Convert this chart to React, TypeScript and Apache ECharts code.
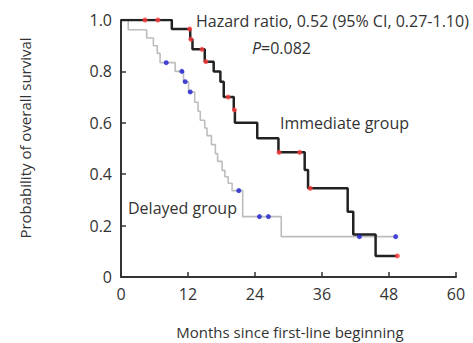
import React, { useEffect, useRef } from "react";
import * as echarts from "echarts";

// Immediate group (black): event times (months) and survival after each event
const immediateTimes = [0, 9.1, 12.4, 12.8, 15.0, 16.6, 17.8, 18.4, 20.2, 20.4, 24.4, 28.2, 32.9, 33.5, 40.6, 41.6, 45.6, 49.5];
const immediateSurv = [1.0, 0.965, 0.925, 0.886, 0.838, 0.8, 0.76, 0.7, 0.65, 0.6, 0.54, 0.485, 0.416, 0.345, 0.254, 0.165, 0.082, 0.082];
const immediateCensorTimes = [4.3, 6.6, 12.3, 12.5, 14.5, 15.2, 19.2, 20.3, 28.3, 32.0, 33.9, 49.5];
const immediateCensorSurv = [1.0, 1.0, 0.965, 0.925, 0.886, 0.838, 0.7, 0.65, 0.485, 0.485, 0.345, 0.082];

// Delayed group (grey)
const delayedTimes = [0, 1.3, 4.6, 5.8, 6.5, 7.0, 9.7, 11.2, 12.1, 13.2, 13.8, 14.2, 15.0, 15.4, 16.2, 16.9, 17.3, 18.1, 18.6, 19.2, 19.9, 21.8, 28.7, 49.2];
const delayedSurv = [1.0, 0.962, 0.93, 0.9, 0.87, 0.834, 0.8, 0.76, 0.72, 0.68, 0.645, 0.61, 0.58, 0.55, 0.515, 0.48, 0.45, 0.415, 0.39, 0.365, 0.336, 0.235, 0.157, 0.157];
const delayedCensorTimes = [8.1, 10.9, 11.5, 12.4, 21.1, 24.8, 26.4, 42.7, 49.2];
const delayedCensorSurv = [0.834, 0.8, 0.76, 0.72, 0.336, 0.235, 0.235, 0.157, 0.157];

const xTicks = [0, 12, 24, 36, 48, 60];
const yTicks = [0, 0.2, 0.4, 0.6, 0.8, 1.0];

const FONT = "Open Sans";
const TXT = "#333";

const zip = (a: number[], b: number[]) => a.map((v, i) => [v, b[i]]);

export default function App() {
  const ref = useRef<HTMLDivElement>(null);
  useEffect(() => {
    document.body.style.margin = "0";
    const chart = echarts.init(ref.current!, null, { renderer: "svg" });
    chart.setOption({
      animation: false,
      backgroundColor: "#fff",
      grid: { left: 121, right: 17, top: 20, bottom: 66 },
      xAxis: {
        type: "value",
        min: xTicks[0],
        max: xTicks[xTicks.length - 1],
        interval: 12,
        axisLine: { lineStyle: { color: "#333", width: 2 } },
        axisTick: { inside: true, length: 5, lineStyle: { color: "#333", width: 1.5 } },
        axisLabel: { color: TXT, fontFamily: FONT, fontSize: 16, margin: 9 },
        splitLine: { show: false },
      },
      yAxis: {
        type: "value",
        min: yTicks[0],
        max: yTicks[yTicks.length - 1],
        interval: 0.2,
        axisLine: { show: true, lineStyle: { color: "#333", width: 2 } },
        axisTick: { show: true, inside: true, length: 5, lineStyle: { color: "#333", width: 1.5 } },
        axisLabel: {
          color: TXT,
          fontFamily: FONT,
          fontSize: 16,
          margin: 9,
          formatter: (v: number) => (v === 0 ? "0" : v.toFixed(1)),
        },
        splitLine: { show: false },
      },
      series: [
        {
          type: "line",
          step: "end",
          data: zip(delayedTimes, delayedSurv),
          symbol: "none",
          lineStyle: { color: "#bdbdbd", width: 1.6 },
          z: 2,
        },
        {
          type: "line",
          step: "end",
          data: zip(immediateTimes, immediateSurv),
          symbol: "none",
          lineStyle: { color: "#222", width: 2.5 },
          z: 3,
        },
        {
          type: "scatter",
          data: zip(immediateCensorTimes, immediateCensorSurv),
          symbol: "circle",
          symbolSize: 5,
          itemStyle: { color: "#ff3b3b" },
          z: 4,
        },
        {
          type: "scatter",
          data: zip(delayedCensorTimes, delayedCensorSurv),
          symbol: "circle",
          symbolSize: 5,
          itemStyle: { color: "#1a1ad0" },
          z: 4,
        },
      ],
      graphic: [
        {
          type: "text",
          x: 196,
          y: 21,
          style: {
            text: "Hazard ratio, 0.52 (95% CI, 0.27-1.10)",
            fontFamily: FONT,
            fontSize: 16,
            fill: TXT,
            verticalAlign: "middle",
          },
        },
        {
          type: "text",
          x: 252,
          y: 48,
          style: {
            text: "{i|P}=0.082",
            fontFamily: FONT,
            fontSize: 16,
            fill: TXT,
            verticalAlign: "middle",
            rich: { i: { fontStyle: "italic", fontFamily: FONT, fontSize: 16, fill: TXT } },
          },
        },
        {
          type: "text",
          x: 280,
          y: 123,
          style: { text: "Immediate group", fontFamily: FONT, fontSize: 16, fill: TXT, verticalAlign: "middle" },
        },
        {
          type: "text",
          x: 128,
          y: 208,
          style: { text: "Delayed group", fontFamily: FONT, fontSize: 16, fill: TXT, verticalAlign: "middle" },
        },
        {
          type: "text",
          x: 290,
          y: 332,
          style: {
            text: "Months since first-line beginning",
            fontFamily: FONT,
            fontSize: 15,
            fill: TXT,
            align: "center",
            verticalAlign: "middle",
          },
        },
        {
          type: "text",
          x: 25,
          y: 138,
          rotation: Math.PI / 2,
          style: {
            text: "Probability of overall survival",
            fontFamily: FONT,
            fontSize: 15,
            fill: TXT,
            align: "center",
            verticalAlign: "middle",
          },
        },
      ],
    });
    return () => chart.dispose();
  }, []);
  return <div ref={ref} style={{ position: "fixed", left: 0, top: 0, width: 473, height: 343 }} />;
}
